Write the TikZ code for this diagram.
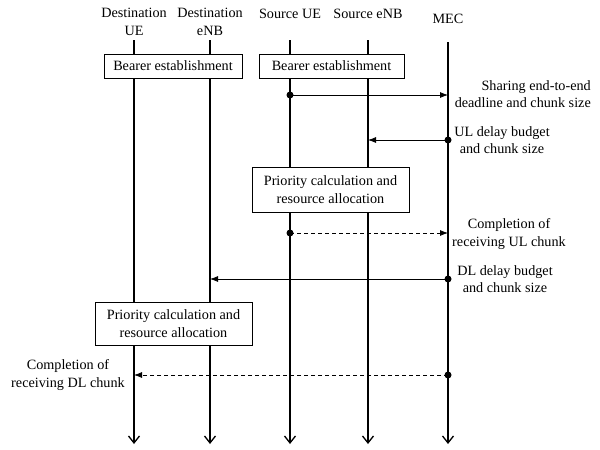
\documentclass[tikz,border=0pt]{standalone}
\usepackage{fontspec}
\setmainfont{Liberation Serif}
\usetikzlibrary{arrows.meta}
\begin{document}
\begin{tikzpicture}[x=1pt,y=-1pt,
  txt/.style={align=center,font=\fontsize{14.2}{17.5}\selectfont,inner sep=0pt},
  box/.style={draw,line width=0.8pt,fill=white,align=center,font=\fontsize{14.2}{17.5}\selectfont,inner sep=0pt},
  life/.style={line width=1.7pt,-{Straight Barb[length=7pt,width=11pt,line width=1.3pt]}},
  msg/.style={line width=0.8pt,-{Latex[length=8pt,width=6pt]}},
  dmsg/.style={msg,dash pattern=on 4pt off 3pt},
  dot/.style={circle,fill=black,inner sep=0pt,minimum size=7pt}
]
\useasboundingbox (0,0) rectangle (600,450);
% headers
\node[txt] (h1) at (134,22) {Destination\\UE};
\node[txt] (h2) at (210,22) {Destination\\eNB};
\node[txt] (h3) at (290,14) {Source UE};
\node[txt] (h4) at (368,14) {Source eNB};
\node[txt] (h5) at (448,19) {MEC};
% lifelines
\coordinate (t1) at (134,40); \coordinate (b1) at (134,444);
\coordinate (t2) at (210,40); \coordinate (b2) at (210,444);
\coordinate (t3) at (290,40); \coordinate (b3) at (290,444);
\coordinate (t4) at (368,40); \coordinate (b4) at (368,444);
\coordinate (t5) at (448,42); \coordinate (b5) at (448,444);
\foreach \i in {1,...,5} {\draw[life] (t\i) -- (b\i);}
% boxes
\node[box,minimum width=138pt,minimum height=24pt] (be1) at (173,66) {Bearer establishment};
\node[box,minimum width=145pt,minimum height=24pt] (be2) at (331.5,66) {Bearer establishment};
\node[box,minimum width=157pt,minimum height=45pt] (pr1) at (330.5,189.5) {Priority calculation and\\resource allocation};
\node[box,minimum width=157pt,minimum height=43pt] (pr2) at (173.5,323.5) {Priority calculation and\\resource allocation};
% messages
\node[dot] (m1s) at (290,95) {}; \coordinate (m1e) at (448,95);
\draw[msg] (m1s.center) -- (m1e);
\node[txt,align=right,anchor=east] (l1) at (591,94) {Sharing end-to-end\\deadline and chunk size};
\node[dot] (m2s) at (448,140) {}; \coordinate (m2e) at (368,140);
\draw[msg] (m2s.center) -- (m2e);
\node[txt] (l2) at (502,140) {UL delay budget\\and chunk size};
\node[dot] (m3s) at (290,233) {}; \coordinate (m3e) at (448,233);
\draw[dmsg] (m3s.center) -- (m3e);
\node[txt] (l3) at (509,234) {Completion of\\receiving UL chunk};
\node[dot] (m4s) at (448,279) {}; \coordinate (m4e) at (210,279);
\draw[msg] (m4s.center) -- (m4e);
\node[txt] (l4) at (505,279) {DL delay budget\\and chunk size};
\node[dot] (m5s) at (448,375) {}; \coordinate (m5e) at (134,375);
\draw[dmsg] (m5s.center) -- (m5e);
\node[txt] (l5) at (68,375) {Completion of\\receiving DL chunk};
\end{tikzpicture}
\end{document}
